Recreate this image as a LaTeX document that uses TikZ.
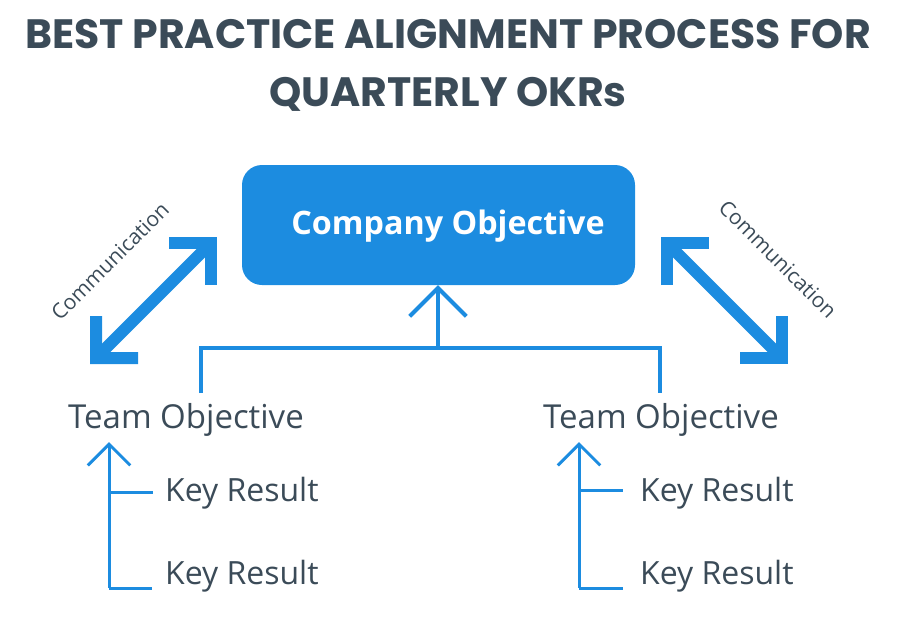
\documentclass[tikz,border=0pt]{standalone}
\usepackage{fontspec}
\setmainfont{Open Sans}
\newfontfamily\titlefont{Poppins}
\usetikzlibrary{arrows.meta}

\definecolor{okrblue}{RGB}{28,140,224}
\definecolor{okrslate}{RGB}{59,75,88}

\begin{document}
\begin{tikzpicture}[x=1pt,y=-1pt,
    teamtext/.style={anchor=west,inner sep=0pt,text=okrslate,
      font=\fontsize{33}{38}\selectfont},
    keytext/.style={anchor=west,inner sep=0pt,text=okrslate,
      font=\fontsize{32}{36}\selectfont},
    talk/.style={okrblue,line width=12pt,
      {Straight Barb[angle=90:42pt,sharp]}-{Straight Barb[angle=90:42pt,sharp]}},
    link/.style={okrblue,line width=4pt,line cap=butt},
    branch/.style={okrblue,line width=3pt,line cap=butt}]
    \useasboundingbox (0,0) rectangle (900,627);

    % title
    \node[text=okrslate,font=\titlefont\bfseries\fontsize{41}{58}\selectfont,
      align=center] (title) at (448,65)
      {BEST PRACTICE ALIGNMENT PROCESS FOR\\QUARTERLY OKRs};

    % company objective
    \node[fill=okrblue,rounded corners=20pt,minimum width=393pt,
      minimum height=120pt,inner sep=0pt] (company) at (438.5,225) {};
    \node[text=white,font=\bfseries\fontsize{32.3}{38}\selectfont]
      (companytext) at (448,226) {Company Objective};

    % communication arrows
    \coordinate (cl1) at (90,364);
    \coordinate (cl2) at (217,237);
    \coordinate (cr1) at (661,237);
    \coordinate (cr2) at (788,364);
    \draw[talk] (cl1) -- (cl2);
    \draw[talk] (cr1) -- (cr2);
    \node[text=okrslate,rotate=45,font=\fontsize{21}{25}\selectfont]
      (commleft) at (110,261) {Communication};
    \node[text=okrslate,rotate=-45,font=\fontsize{21}{25}\selectfont]
      (commright) at (778,259) {Communication};

    % alignment bracket
    \coordinate (joint) at (438,348);
    \coordinate (legl) at (201,393);
    \coordinate (legr) at (660,393);
    \draw[link] (legl) |- (joint) -| (legr);
    \draw[link,-{Straight Barb[angle=90:40pt]}] (joint) -- (company.south -| joint);

    % team objectives
    \node[teamtext] (teamleft) at (68,420) {Team Objective};
    \node[teamtext] (teamright) at (543,420) {Team Objective};

    % key results
    \node[keytext] (keyla) at (165,493) {Key Result};
    \node[keytext] (keylb) at (165,576) {Key Result};
    \node[keytext] (keyra) at (640,493) {Key Result};
    \node[keytext] (keyrb) at (640,576) {Key Result};

    \coordinate (stemleft) at (109,588);
    \coordinate (stemright) at (579,588);
    \draw[branch,-{Straight Barb[angle=90:30pt]}] (stemleft) -- (109,442);
    \draw[branch] (109,492) -- (153,492) (stemleft) -- (152,588);
    \draw[branch,-{Straight Barb[angle=90:30pt]}] (stemright) -- (579,442);
    \draw[branch] (579,490) -- (623,490) (stemright) -- (623,588);
  \end{tikzpicture}
\end{document}
